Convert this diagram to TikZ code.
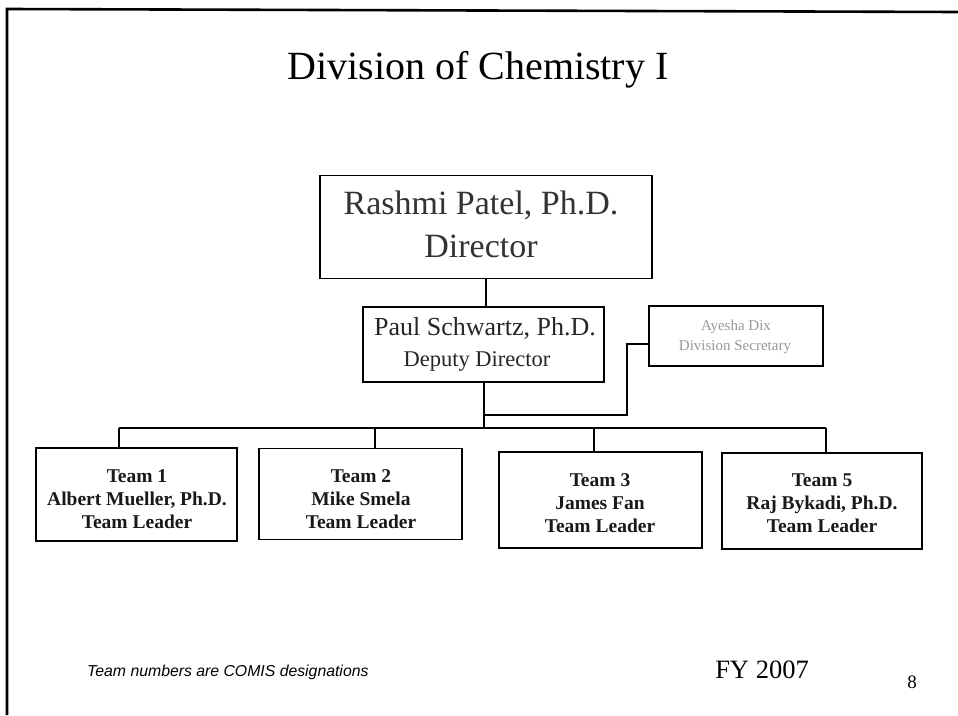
\documentclass[tikz,border=0pt]{standalone}
\usepackage{fontspec}
\setmainfont{Liberation Serif}
\newfontfamily\footfont{Liberation Sans}
\begin{document}
\begin{tikzpicture}[x=1pt,y=-1pt,
  box/.style={draw=black, line width=1.6pt, fill=white, inner sep=0pt},
  link/.style={draw=black, line width=1.5pt},
  line/.style={inner sep=0pt},
  teamtext/.style={align=center, inner sep=0pt, font=\fontsize{19.5}{23}\selectfont\bfseries, text=black!90}]
\useasboundingbox (0,0) rectangle (958,715);

% slide frame (top and left edges)
\draw[line width=2.6pt] (7,715) -- (7,9) -- (958,12);

% title
\node (title) at (478,70) {\fontsize{40}{44}\selectfont Division of Chemistry I};

% director and deputy
\node[box, minimum width=332pt, minimum height=103pt] (dir) at (486,227) {};
\node[line, text=black!80] (dirname) at (481,205) {\fontsize{34}{40}\selectfont Rashmi Patel, Ph.D.};
\node[line, text=black!80] (dirrole) at (481,246) {\fontsize{34}{40}\selectfont Director};

\node[box, minimum width=241pt, minimum height=75pt] (dep) at (483.5,344.5) {};
\node[line, text=black!85] (depname) at (485,328) {\fontsize{26}{30}\selectfont Paul Schwartz, Ph.D.};
\node[line, text=black!85] (deprole) at (477,361) {\fontsize{22.5}{26}\selectfont Deputy Director};

% secretary
\node[box, minimum width=174pt, minimum height=60pt] (sec) at (736,336) {};
\node[line, text=black!40] (secname) at (736,327) {\fontsize{15}{18}\selectfont Ayesha Dix};
\node[line, text=black!40] (secrole) at (735,347) {\fontsize{15}{18}\selectfont Division Secretary};

% team boxes
\node[box, minimum width=201pt, minimum height=93pt] (t1) at (136.5,494.5) {};
\node[box, minimum width=203pt, minimum height=91pt] (t2) at (360.5,494) {};
\node[box, minimum width=203pt, minimum height=96pt] (t3) at (600.5,500) {};
\node[box, minimum width=200pt, minimum height=96pt] (t5) at (822,501) {};

\node[teamtext] (t1txt) at (137,499) {Team 1\\Albert Mueller, Ph.D.\\Team Leader};
\node[teamtext] (t2txt) at (361,499) {Team 2\\Mike Smela\\Team Leader};
\node[teamtext] (t3txt) at (600,503) {Team 3\\James Fan\\Team Leader};
\node[teamtext] (t5txt) at (822,503) {Team 5\\Raj Bykadi, Ph.D.\\Team Leader};

% connector junctions
\coordinate (bus) at (484,428);
\coordinate (busL) at (119,428);
\coordinate (busR) at (826,428);
\coordinate (d2) at (375,428);
\coordinate (d3) at (594,428);
\coordinate (secjoin) at (627,344);
\coordinate (secfoot) at (484,415);

% connectors
\draw[link] (dir.south) -- (dir.south |- dep.north);
\draw[link] (dep.south -| bus) -- (bus);
\draw[link] (sec.west |- secjoin) -- (secjoin) |- (secfoot);
\draw[link] (busL) -- (busR);
\draw[link] (busL) -- (busL |- t1.north);
\draw[link] (d2) -- (d2 |- t2.north);
\draw[link] (d3) -- (d3 |- t3.north);
\draw[link] (busR) -- (busR |- t5.north);

% footer
\node[anchor=west, inner sep=0pt] (note) at (87,672)
  {\footfont\itshape\fontsize{15.8}{18}\selectfont Team numbers are COMIS designations};
\node (fy) at (762,670) {\fontsize{26.5}{30}\selectfont FY 2007};
\node (pg) at (912,682) {\fontsize{19}{22}\selectfont 8};
\end{tikzpicture}
\end{document}
